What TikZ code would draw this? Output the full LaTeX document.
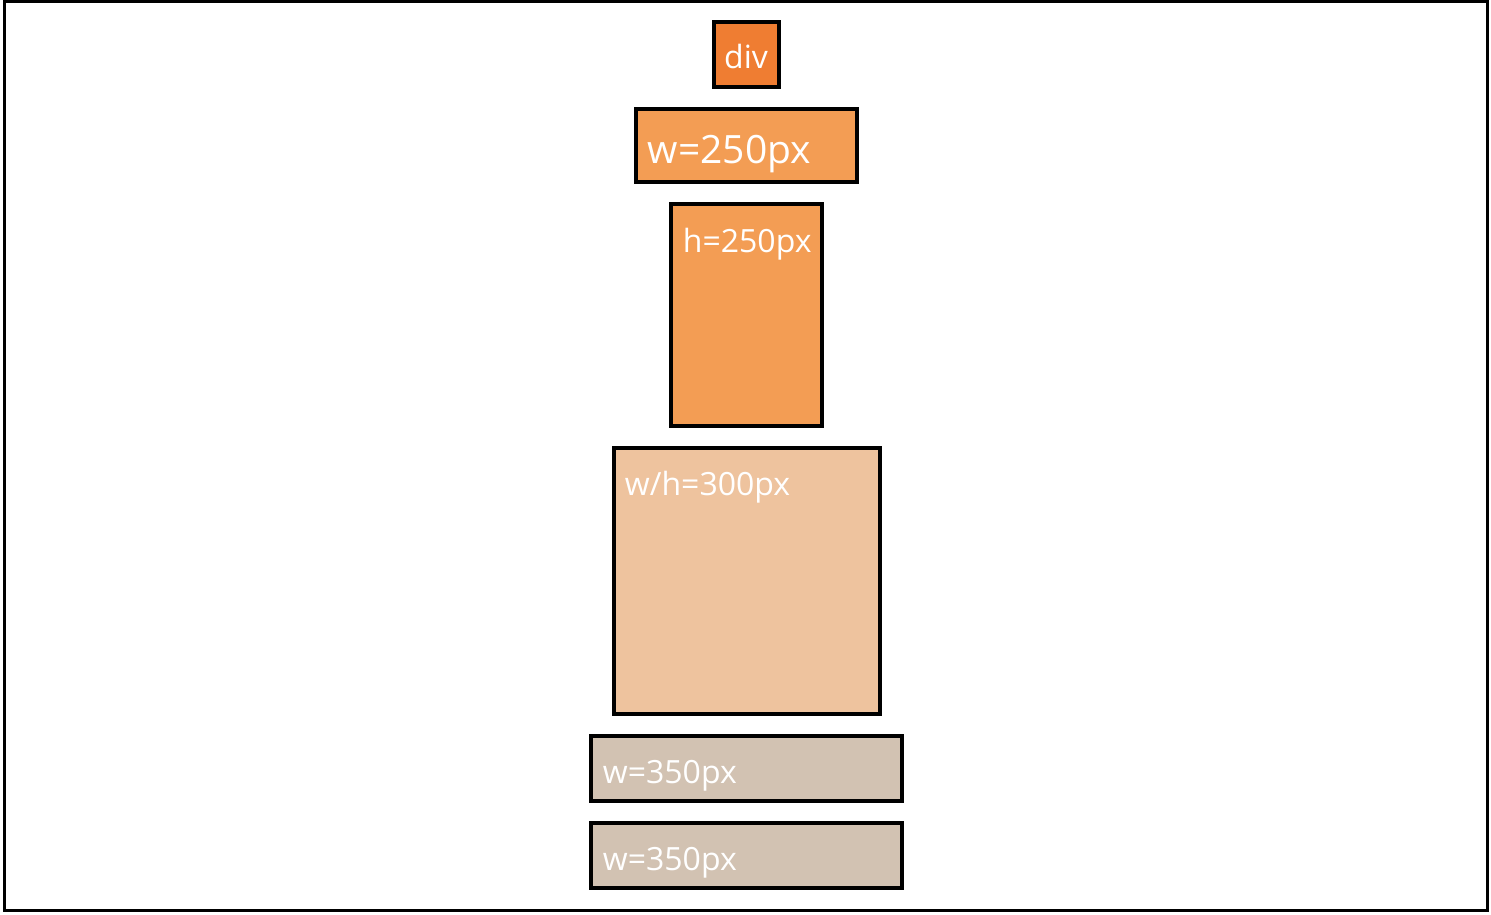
\documentclass[tikz,border=0pt]{standalone}
\usepackage{fontspec}
\setmainfont{Open Sans}
\usetikzlibrary{positioning, calc}
\definecolor{boxDark}{RGB}{239, 125, 50}
\definecolor{boxMid}{RGB}{243, 157, 84}
\definecolor{boxPale}{RGB}{238, 195, 158}
\definecolor{boxGray}{RGB}{210, 194, 178}
\tikzset{
    block/.style={
        rectangle,
        draw=black,
        line width=2pt,
        anchor=north west,
        inner sep=0pt,
        outer sep=0pt
    },
    tag/.style={
        text=white,
        inner sep=0pt,
        font=\fontsize{16}{18}\selectfont
    }
}
\begin{document}
\begin{tikzpicture}[x=0.5pt, y=-0.5pt]
    \useasboundingbox (0,0) rectangle (1491,914);

    % Frame
    \draw[line width=1.75pt] (4.5,1.5) rectangle (1487.5,910.5);

    % Boxes
    \node[block, fill=boxDark, minimum width=32.5pt, minimum height=32.5pt] (div) at (713.5,22.5) {};
    \node[block, fill=boxMid, minimum width=110.5pt, minimum height=36.5pt] (wide) at (635.5,109.5) {};
    \node[block, fill=boxMid, minimum width=75.5pt, minimum height=110.5pt] (tall) at (670.5,204.5) {};
    \node[block, fill=boxPale, minimum width=133pt, minimum height=133pt] (square) at (613.5,447.5) {};
    \node[block, fill=boxGray, minimum width=155.5pt, minimum height=32.5pt] (barA) at (590.5,735.5) {};
    \node[block, fill=boxGray, minimum width=155.5pt, minimum height=32.5pt] (barB) at (590.5,822.5) {};

    % Labels
    \node[tag, anchor=base] (divText) at ($(div.north)+(0,46)$) {div};
    \node[tag, anchor=base west, font=\fontsize{19.5}{22}\selectfont] (wideText) at ($(wide.north west)+(12,54)$) {w=250px};
    \node[tag, anchor=base west] (tallText) at ($(tall.north west)+(12,48)$) {h=250px};
    \node[tag, anchor=base west] (squareText) at ($(square.north west)+(11,48)$) {w/h=300px};
    \node[tag, anchor=base west] (barAText) at ($(barA.north west)+(12,48)$) {w=350px};
    \node[tag, anchor=base west] (barBText) at ($(barB.north west)+(12,48)$) {w=350px};
\end{tikzpicture}
\end{document}
